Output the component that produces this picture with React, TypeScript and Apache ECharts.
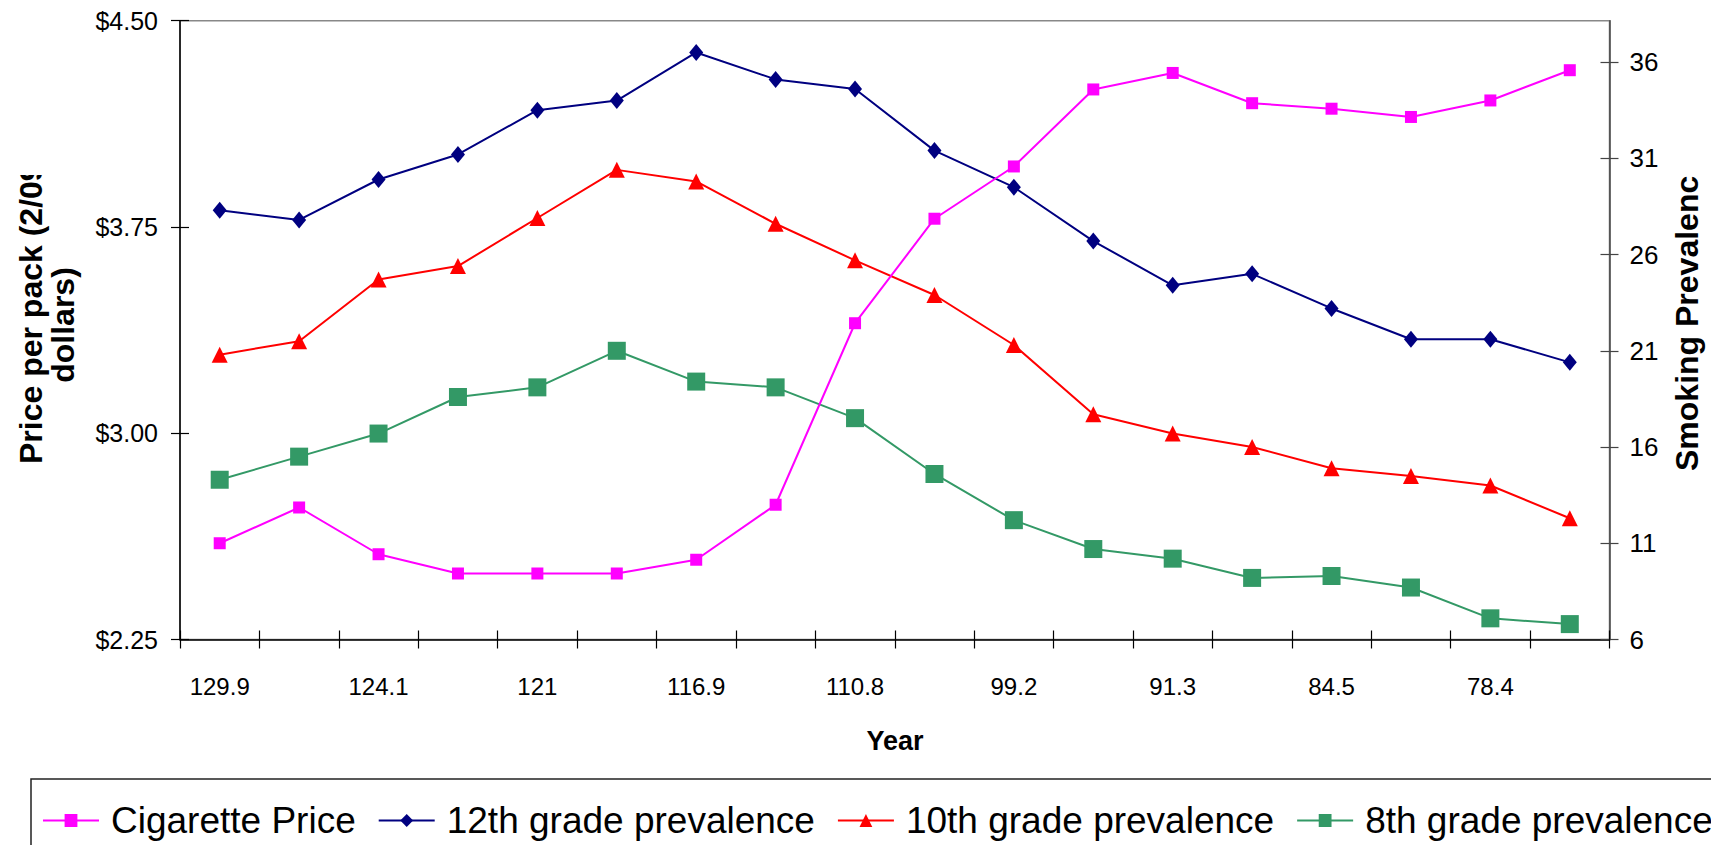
import React, { useEffect, useRef } from "react";
import * as echarts from "echarts";

const categories = ["129.9", "127.0", "124.1", "122.6", "121", "119.3", "116.9", "113.9", "110.8", "104.6", "99.2", "95.0", "91.3", "87.6", "84.5", "81.2", "78.4", "75.6"];
const cigarettePrice = [2.6, 2.73, 2.56, 2.49, 2.49, 2.49, 2.54, 2.74, 3.4, 3.78, 3.97, 4.25, 4.31, 4.2, 4.18, 4.15, 4.21, 4.32];
const grade12 = [28.3, 27.8, 29.9, 31.2, 33.5, 34.0, 36.5, 35.1, 34.6, 31.4, 29.5, 26.7, 24.4, 25.0, 23.2, 21.6, 21.6, 20.4];
const grade10 = [20.8, 21.5, 24.7, 25.4, 27.9, 30.4, 29.8, 27.6, 25.7, 23.9, 21.3, 17.7, 16.7, 16.0, 14.9, 14.5, 14.0, 12.3];
const grade8 = [14.3, 15.5, 16.7, 18.6, 19.1, 21.0, 19.4, 19.1, 17.5, 14.6, 12.2, 10.7, 10.2, 9.2, 9.3, 8.7, 7.1, 6.8];
const prevalenceTicks = [6, 11, 16, 21, 26, 31, 36];
const seriesNames = ["Cigarette Price", "12th grade prevalence", "10th grade prevalence", "8th grade prevalence"];

const FONT = "'Liberation Sans', Arial, sans-serif";

export default function App() {
  const ref = useRef<HTMLDivElement>(null);
  useEffect(() => {
    if (!ref.current) return;
    const chart = echarts.init(ref.current, null, { renderer: "svg" });
    const priceMin = 2.25, priceMax = 4.5;
    const prevMin = 6, prevMax = 38.15;
    const tickOut = { show: true, inside: false, length: 9, lineStyle: { color: "#000", width: 1.2 } };
    const tickIn = { show: true, inside: true, length: 9, lineStyle: { color: "#000", width: 1.2 } };
    const option: any = {
      animation: false,
      backgroundColor: "#fff",
      grid: { left: 180, right: 101.5, top: 20.7, bottom: 205.5, show: true, borderColor: "#888", borderWidth: 1.5, backgroundColor: "transparent" },
      legend: {
        data: seriesNames,
        left: 42,
        top: 802,
        width: 3000,
        padding: 0,
        itemWidth: 56,
        itemHeight: 16,
        itemGap: 22,
        textStyle: { fontFamily: FONT, fontSize: 37, color: "#000", padding: [0, 0, 0, 7] },
      },
      xAxis: [
        {
          type: "category",
          data: categories,
          boundaryGap: true,
          position: "bottom",
          axisLine: { show: true, lineStyle: { color: "#000", width: 1.5 } },
          axisTick: { ...tickOut, interval: 0 },
          axisLabel: { interval: 1, margin: 35, fontFamily: FONT, fontSize: 24, color: "#000" },
          splitLine: { show: false },
        },
        {
          type: "category",
          data: categories,
          boundaryGap: true,
          position: "bottom",
          axisLine: { show: false },
          axisTick: { ...tickIn, interval: 0 },
          axisLabel: { show: false },
          splitLine: { show: false },
        },
      ],
      yAxis: [
        {
          type: "value",
          position: "left",
          min: priceMin,
          max: priceMax,
          interval: 0.75,
          axisLine: { show: true, lineStyle: { color: "#000", width: 1.5 } },
          axisTick: tickOut,
          axisLabel: { margin: 22, fontFamily: FONT, fontSize: 25, color: "#000", formatter: (v: number) => "$" + v.toFixed(2) },
          splitLine: { show: false },
        },
        {
          type: "value",
          position: "right",
          min: prevMin,
          max: prevMax,
          axisLine: { show: true, lineStyle: { color: "#444", width: 1.5 } },
          axisTick: { ...tickOut, customValues: prevalenceTicks, lineStyle: { color: "#444", width: 1.2 } },
          axisLabel: { margin: 20, fontFamily: FONT, fontSize: 26, color: "#000", customValues: prevalenceTicks },
          splitLine: { show: false },
        },
        {
          type: "value",
          position: "left",
          min: priceMin,
          max: priceMax,
          interval: 0.75,
          axisLine: { show: false },
          axisTick: tickIn,
          axisLabel: { show: false },
          splitLine: { show: false },
        },
        {
          type: "value",
          position: "right",
          min: prevMin,
          max: prevMax,
          axisLine: { show: false },
          axisTick: { ...tickIn, customValues: prevalenceTicks, lineStyle: { color: "#444", width: 1.2 } },
          axisLabel: { show: false, customValues: prevalenceTicks },
          splitLine: { show: false },
        },
      ],
      series: [
        {
          name: seriesNames[1],
          type: "line",
          yAxisIndex: 1,
          data: grade12,
          symbol: "diamond",
          symbolSize: [14, 17],
          itemStyle: { color: "#000080" },
          lineStyle: { color: "#000080", width: 2 },
        },
        {
          name: seriesNames[2],
          type: "line",
          yAxisIndex: 1,
          data: grade10,
          symbol: "triangle",
          symbolSize: [16, 16],
          itemStyle: { color: "#FF0000" },
          lineStyle: { color: "#FF0000", width: 2 },
        },
        {
          name: seriesNames[3],
          type: "line",
          yAxisIndex: 1,
          data: grade8,
          symbol: "rect",
          symbolSize: 18,
          itemStyle: { color: "#339966" },
          lineStyle: { color: "#339966", width: 2 },
        },
        {
          name: seriesNames[0],
          type: "line",
          yAxisIndex: 0,
          data: cigarettePrice,
          symbol: "rect",
          symbolSize: 12,
          itemStyle: { color: "#FF00FF" },
          lineStyle: { color: "#FF00FF", width: 2 },
        },
      ],
      graphic: [
        {
          type: "text",
          x: 31,
          y: 464,
          rotation: Math.PI / 2,
          style: { text: "Price per pack (2/09", fontFamily: FONT, fontWeight: "bold", fontSize: 32, fill: "#000", textAlign: "left", textVerticalAlign: "middle" },
        },
        {
          type: "text",
          x: 63,
          y: 325,
          rotation: Math.PI / 2,
          style: { text: "dollars)", fontFamily: FONT, fontWeight: "bold", fontSize: 32, fill: "#000", textAlign: "center", textVerticalAlign: "middle" },
        },
        {
          type: "text",
          x: 1687,
          y: 471,
          rotation: Math.PI / 2,
          style: { text: "Smoking Prevalence", fontFamily: FONT, fontWeight: "bold", fontSize: 32, fill: "#000", textAlign: "left", textVerticalAlign: "middle" },
        },
        {
          type: "rect",
          shape: { x: 0, y: 0, width: 82, height: 175 },
          style: { fill: "#fff" },
          z: 100,
        },
        {
          type: "rect",
          shape: { x: 1664, y: 0, width: 47, height: 175 },
          style: { fill: "#fff" },
          z: 100,
        },
        {
          type: "text",
          x: 895,
          y: 741,
          style: { text: "Year", fontFamily: FONT, fontWeight: "bold", fontSize: 27, fill: "#000", textAlign: "center", textVerticalAlign: "middle" },
        },
        {
          type: "rect",
          shape: { x: 31, y: 779, width: 1800, height: 200 },
          style: { fill: "transparent", stroke: "#222", lineWidth: 1.5 },
        },
      ],
    };
    chart.setOption(option);
    return () => chart.dispose();
  }, []);
  return <div ref={ref} style={{ position: "fixed", left: 0, top: 0, width: 1711, height: 845 }} />;
}
